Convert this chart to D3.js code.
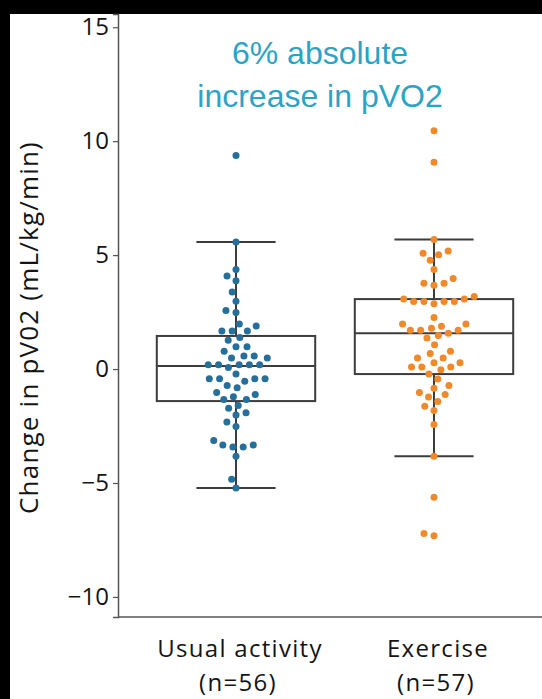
<!DOCTYPE html>
<html>
<head>
<meta charset="utf-8">
<script src="https://cdn.jsdelivr.net/npm/d3@7"></script>
<style>
  html, body { margin: 0; padding: 0; background: #000; }
  svg { display: block; }
</style>
</head>
<body>
<svg id="chart" width="542" height="699"></svg>
<script>
// ---------------- data ----------------
const categories = ["Usual activity", "Exercise"];
const categoryCounts = ["(n=56)", "(n=57)"];
const usualValues = [
  9.37, 5.58, 4.37, 4.08, 3.87, 3.38, 2.98, 2.57, 2.48, 1.98, 1.89, 1.67, 1.67, 1.67,
  1.38, 1.26, 0.98, 0.98, 0.78, 0.57, 0.57, 0.48, 0.48, 0.19, 0.19, 0.19, 0.19, 0.19, 0.07,
  -0.22, -0.43, -0.43, -0.43, -0.43, -0.53, -0.72, -0.82, -1.03, -1.12, -1.22, -1.34, -1.34,
  -1.60, -1.72, -1.92, -2.02, -2.32, -2.52, -3.13, -3.33, -3.33, -3.42, -3.42, -3.83, -4.83, -5.22
];
const exerciseValues = [
  10.46, 9.07, 5.68, 5.18, 5.08, 5.02, 4.77, 4.37, 3.97, 3.77, 3.77, 3.68,
  3.18, 3.07, 3.07, 2.96, 2.96, 2.96, 2.96, 2.87,
  2.26, 1.98, 1.98, 1.88, 1.79, 1.70, 1.70, 1.70, 1.57, 1.47, 1.36, 1.07, 0.78, 0.68,
  0.48, 0.48, 0.28, 0.28, 0.09, 0.09, 0.09, -0.03, -0.22, -0.44, -0.72, -0.84, -1.03,
  -1.12, -1.23, -1.42, -1.63, -1.82, -2.43, -3.83, -5.62, -7.32, -7.22
];
const seriesValues = [usualValues, exerciseValues];
const seriesColors = ["#276f9b", "#f0892a"];
const yTicks = [-10, -5, 0, 5, 10, 15];
const yLabel = "Change in pV02 (mL/kg/min)";
const titleLines = ["6% absolute", "increase in pVO2"];

// ---------------- layout ----------------
const W = 542, H = 699;
const svg = d3.select("#chart");
svg.append("rect").attr("x", 0).attr("y", 0).attr("width", W).attr("height", H).attr("fill", "#000");
svg.append("rect").attr("x", 10).attr("y", 14).attr("width", W - 10).attr("height", H - 14).attr("fill", "#fff");

const plotLeft = 118, plotTop = 14, plotBottom = 617, plotRight = 542;
const y = d3.scaleLinear().domain([-10.88, 15.58]).range([plotBottom, plotTop]);
const x = d3.scaleBand().domain(categories).range([137, 533]).padding(0);
const boxW = x.bandwidth() * 0.8;

const fontUI = "'Open Sans', 'Noto Sans', sans-serif";
const textColor = "#141414";

// y axis
const yAxis = d3.axisLeft(y).tickValues(yTicks).tickSize(5).tickPadding(4).tickFormat(d3.format("d"));
const gy = svg.append("g").attr("transform", `translate(${plotLeft},0)`).call(yAxis);
gy.select(".domain").attr("stroke", "#555").attr("stroke-width", 1.5);
gy.selectAll(".tick line").attr("stroke", "#555").attr("stroke-width", 1.2);
gy.selectAll(".tick text").attr("fill", textColor).style("font-family", fontUI).style("font-size", "24px");

// x axis
const xAxis = d3.axisBottom(x).tickSize(0).tickFormat("");
const gx = svg.append("g").attr("transform", `translate(0,${plotBottom})`).call(xAxis);
gx.select(".domain").attr("d", `M${plotLeft},0H${plotRight}`).attr("stroke", "#555").attr("stroke-width", 1.5);
categories.forEach((c, i) => {
  const cx = x(c) + x.bandwidth() / 2 + 4;
  svg.append("text").attr("x", cx).attr("y", 657).attr("text-anchor", "middle")
    .attr("fill", textColor).style("font-family", fontUI).style("font-size", "24px")
    .style("letter-spacing", "1.3px").text(c);
  svg.append("text").attr("x", cx - 2).attr("y", 691).attr("text-anchor", "middle")
    .attr("fill", textColor).style("font-family", fontUI).style("font-size", "24px")
    .style("letter-spacing", "1.3px").text(categoryCounts[i]);
});

// y label
svg.append("text").attr("transform", `translate(38,${(plotTop + plotBottom) / 2 + 12}) rotate(-90)`)
  .attr("text-anchor", "middle").attr("fill", textColor)
  .style("font-family", fontUI).style("font-size", "26px").style("letter-spacing", "1.2px").text(yLabel);

// ---------------- boxes ----------------
function boxStats(vals) {
  const s = vals.slice().sort(d3.ascending);
  const q1 = d3.quantileSorted(s, 0.25), med = d3.quantileSorted(s, 0.5), q3 = d3.quantileSorted(s, 0.75);
  const iqr = q3 - q1;
  const lo = d3.min(s.filter(v => v >= q1 - 1.5 * iqr));
  const hi = d3.max(s.filter(v => v <= q3 + 1.5 * iqr));
  return { q1, med, q3, lo, hi };
}
const lineColor = "#3c3c3c";
categories.forEach((c, i) => {
  const st = boxStats(seriesValues[i]);
  const cx = x(c) + x.bandwidth() / 2;
  const g = svg.append("g").attr("stroke", lineColor).attr("stroke-width", 2).attr("fill", "none");
  g.append("rect").attr("x", cx - boxW / 2).attr("y", y(st.q3)).attr("width", boxW).attr("height", y(st.q1) - y(st.q3));
  g.append("line").attr("x1", cx - boxW / 2).attr("x2", cx + boxW / 2).attr("y1", y(st.med)).attr("y2", y(st.med));
  g.append("line").attr("x1", cx).attr("x2", cx).attr("y1", y(st.q3)).attr("y2", y(st.hi));
  g.append("line").attr("x1", cx).attr("x2", cx).attr("y1", y(st.q1)).attr("y2", y(st.lo));
  g.append("line").attr("x1", cx - boxW / 4).attr("x2", cx + boxW / 4).attr("y1", y(st.hi)).attr("y2", y(st.hi));
  g.append("line").attr("x1", cx - boxW / 4).attr("x2", cx + boxW / 4).attr("y1", y(st.lo)).attr("y2", y(st.lo));
});

// ---------------- swarm ----------------
function swarm(vals, cx, r) {
  const pts = vals.map(v => ({ v, py: y(v), u: -y(v) }));
  pts.sort((a, b) => a.u - b.u);
  const placed = [];
  pts.forEach((p, k) => {
    if (k === 0) { p.x = cx; placed.push(p); return; }
    const nb = [];
    for (let j = placed.length - 1; j >= 0; j--) {
      if (p.u - placed[j].u < 2 * r) nb.push(placed[j]); else break;
    }
    const cands = [cx];
    let left = true;
    nb.forEach(n => {
      const dy = p.u - n.u;
      const dx = Math.sqrt(Math.max(4 * r * r - dy * dy, 0)) * 1.05;
      if (left) cands.push(n.x - dx, n.x + dx); else cands.push(n.x + dx, n.x - dx);
      left = !left;
    });
    const order = cands.map((c, i) => ({ c, i }))
      .sort((a, b) => (Math.abs(a.c - cx) - Math.abs(b.c - cx)) || (a.i - b.i));
    p.x = cx;
    for (const o of order) {
      if (nb.every(n => (n.x - o.c) ** 2 + (n.u - p.u) ** 2 >= 4 * r * r - 1e-6)) { p.x = o.c; break; }
    }
    placed.push(p);
  });
  return pts;
}
categories.forEach((c, i) => {
  const cx = x(c) + x.bandwidth() / 2;
  const pts = swarm(seriesValues[i], cx, 4.9);
  svg.append("g").selectAll("circle").data(pts).join("circle")
    .attr("cx", d => d.x).attr("cy", d => d.py).attr("r", 3.5).attr("fill", seriesColors[i]);
});

// ---------------- annotation ----------------
const title = svg.append("text").attr("text-anchor", "middle").attr("fill", "#2ba3c5")
  .style("font-family", "'Liberation Sans', Arial, sans-serif").style("font-size", "32px");
titleLines.forEach((t, i) => {
  title.append("tspan").attr("x", 320).attr("y", 64 + i * 43).text(t);
});
</script>
</body>
</html>
